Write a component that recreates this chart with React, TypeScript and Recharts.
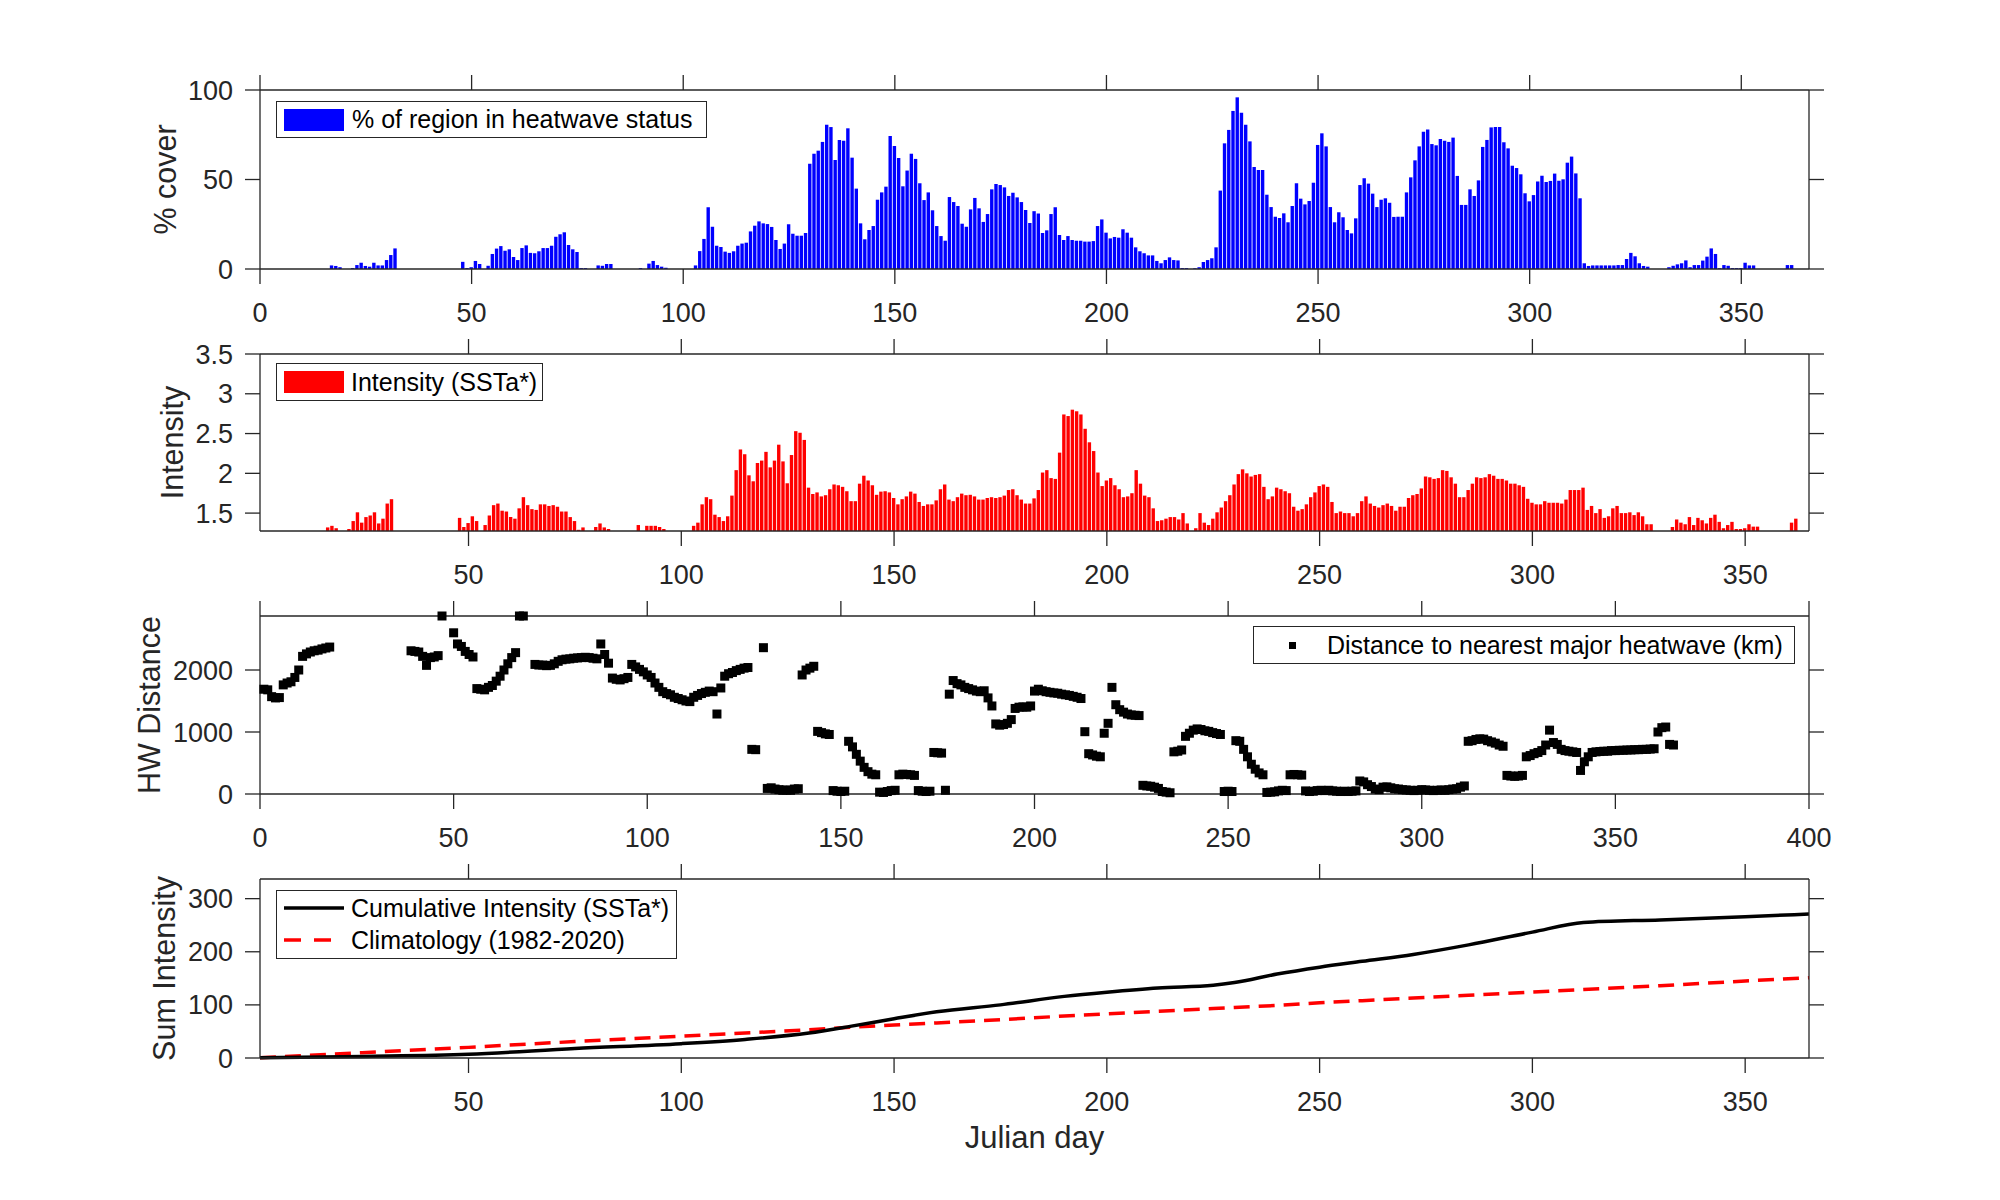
import { ComposedChart, Bar, Line, Scatter, XAxis, YAxis, Label } from "recharts";

const FONT = '"Liberation Sans", Arial, Helvetica, sans-serif';
const INK = "#262626";

// days with an active heatwave (inclusive ranges), values below follow this order
const HW_RANGES: [number, number][] = [
  [17, 19], [22, 32], [48, 52], [54, 77], [80, 83], [90, 90],
  [92, 96], [103, 219], [221, 328], [333, 353], [361, 362],
];

// % of region in heatwave status
const COVER = [
  2, 1.7, 1,
  0.5, 2.2, 3.5, 1.7, 1.3, 3.5, 2, 2, 5, 7.8, 11.5,
  4, 0.5, 1, 4.5, 2.8,
  1.8, 8.4, 11.4, 12.8, 10.2, 11, 6.7, 5, 11.7, 13.2, 9, 8.8, 9.9, 11.7, 11.7, 13, 18, 19.4, 20.5, 13.4, 11, 9.5, 0.5, 0.5,
  2, 1.8, 2.8, 2.8,
  0.5,
  3, 4.5, 2.2, 1.3, 0.7,
  2, 10, 16.8, 34.5, 23.6, 13, 12.3, 9.7, 9, 9.9,
  13, 14.2, 14.7, 21, 24.2, 26.6, 25.5, 25.1, 23.5, 16.2,
  11.2, 14.2, 25, 19.7, 18.6, 18.6, 20.1, 58.8, 64.4, 66.1,
  71, 80.6, 79.3, 60.9, 72, 71.7, 78.6, 62.2, 44.9, 25.5,
  16.6, 21.8, 24, 38.7, 42.8, 46, 74.3, 68.7, 62, 46.2,
  55, 64.4, 61.5, 47.9, 38.5, 42.8, 32.8, 24, 18.4, 15.8,
  40.2, 37.4, 35.2, 25.3, 23.6, 33.3, 39.7, 33.9, 26.3, 30.7,
  44.5, 47.5, 46.9, 45.6, 40.8, 42.6, 40, 37.4, 33, 25.7,
  32.3, 31, 20.1, 21.6, 30.7, 34.5, 19, 16.2, 18.4, 16.2,
  15.8, 15.8, 15.3, 15.3, 15.6, 24, 27.7, 20.3, 17.1, 17.9,
  17.5, 22.2, 20.3, 17.5, 12.1, 9.9, 8.8, 7.6, 7.6, 4.5,
  3.2, 5, 6.5, 5, 4.8, 0.5, 0.5,
  0.4, 1, 3.9, 5, 6, 12.1, 43.8, 70.2, 77.7, 88.3,
  95.9, 87.3, 80.6, 71.3, 57, 55.3, 55.3, 41.5, 34.6, 29.2,
  28.5, 31.1, 26.1, 35.2, 47.9, 39.3, 36.1, 38, 48.2, 69.3,
  75.8, 68.5, 34.6, 26.1, 31.7, 28.9, 21.8, 19.9, 28.3, 46.9,
  50.7, 47.7, 42.1, 34.6, 38.7, 39.5, 37, 29.1, 29.2, 29.2,
  42.8, 51.2, 60.7, 68.5, 76.7, 78, 69.8, 69.1, 72.6, 71.7,
  71, 73.4, 52, 35.8, 35.8, 44.5, 40.8, 49.5, 68.2, 72.1,
  79.1, 79.3, 79.3, 70.8, 67.4, 57.7, 56.4, 52.9, 42.3, 37.8,
  41.3, 48.9, 52.1, 48.6, 49.2, 53.3, 49.3, 50.1, 59.4, 62.8,
  53.4, 39.5, 3.2, 1.7, 2, 2, 2, 2, 2, 2,
  2.2, 2.2, 5.6, 9, 7.1, 3.2, 1.7, 1.3,
  1, 1.8, 2.6, 3.2, 4.8, 1, 2.2, 2.2, 4.7, 6.9, 11.5, 8.4, 0.4, 2.2, 1.8, 0.5, 0.5, 0.5, 3.5, 2, 2,
  2.2, 2.2,
];

// intensity (SSTa*)
const INTENSITY = [
  1.32, 1.34, 1.31,
  1.3, 1.4, 1.51, 1.38, 1.45, 1.47, 1.51, 1.37, 1.43, 1.62, 1.675,
  1.44, 1.325, 1.375, 1.46, 1.4,
  1.35, 1.47, 1.6, 1.62, 1.53, 1.52, 1.45, 1.43, 1.56, 1.7, 1.6, 1.55, 1.54, 1.61, 1.61, 1.59, 1.6, 1.58, 1.52, 1.52, 1.45, 1.4, 1.29, 1.32,
  1.325, 1.37, 1.32, 1.3,
  1.35,
  1.34, 1.34, 1.34, 1.325, 1.3,
  1.34, 1.38, 1.61, 1.7, 1.675, 1.48, 1.45, 1.4, 1.46, 1.72,
  2.04, 2.3, 2.24, 1.975, 1.9, 2.13, 2.16, 2.27, 2.075, 2.16,
  2.36, 2.15, 1.875, 2.23, 2.53, 2.51, 2.42, 1.82, 1.74, 1.76,
  1.71, 1.725, 1.8, 1.86, 1.85, 1.83, 1.775, 1.65, 1.65, 1.87,
  1.97, 1.91, 1.85, 1.73, 1.77, 1.775, 1.76, 1.69, 1.61, 1.675,
  1.71, 1.77, 1.745, 1.64, 1.59, 1.61, 1.61, 1.66, 1.8, 1.86,
  1.67, 1.65, 1.7, 1.745, 1.725, 1.73, 1.71, 1.67, 1.67, 1.69,
  1.7, 1.69, 1.7, 1.72, 1.79, 1.8, 1.725, 1.67, 1.62, 1.62,
  1.685, 1.79, 2.01, 2.04, 1.94, 1.93, 2.26, 2.74, 2.72, 2.8,
  2.78, 2.74, 2.56, 2.39, 2.28, 2.01, 1.84, 1.91, 1.94, 1.85,
  1.8, 1.7, 1.71, 1.75, 2.04, 1.87, 1.72, 1.7, 1.56, 1.4,
  1.41, 1.43, 1.45, 1.45, 1.42, 1.5, 1.37,
  1.31, 1.5, 1.38, 1.35, 1.43, 1.51, 1.57, 1.65, 1.725, 1.86,
  1.99, 2.05, 2.0, 1.96, 1.98, 1.99, 1.83, 1.675, 1.71, 1.82,
  1.8, 1.775, 1.75, 1.58, 1.53, 1.55, 1.61, 1.7, 1.76, 1.84,
  1.86, 1.83, 1.64, 1.5, 1.52, 1.5, 1.5, 1.46, 1.5, 1.65,
  1.71, 1.62, 1.59, 1.57, 1.6, 1.62, 1.59, 1.53, 1.58, 1.58,
  1.69, 1.725, 1.74, 1.81, 1.96, 1.95, 1.93, 1.94, 2.04, 2.03,
  1.95, 1.87, 1.7, 1.7, 1.79, 1.87, 1.95, 1.94, 1.95, 1.99,
  1.97, 1.93, 1.93, 1.91, 1.87, 1.87, 1.85, 1.83, 1.68, 1.63,
  1.61, 1.61, 1.65, 1.63, 1.63, 1.63, 1.62, 1.67, 1.79, 1.79,
  1.79, 1.82, 1.54, 1.59, 1.5, 1.55, 1.44, 1.46, 1.56, 1.59,
  1.5, 1.5, 1.51, 1.475, 1.51, 1.46, 1.36, 1.36,
  1.325, 1.42, 1.38, 1.36, 1.45, 1.35, 1.44, 1.41, 1.37, 1.44, 1.48, 1.39, 1.31, 1.35, 1.39, 1.3, 1.3, 1.31, 1.36, 1.33, 1.33,
  1.38, 1.43,
];

// distance to nearest major heatwave (km), day 1..365, null = no point
const DIST: (number | null)[] = [
  1690, 1680, 1570, 1550, 1555, 1760, 1790, 1810, 1880, 2000,
  2220, 2260, 2290, 2310, 2320, 2340, 2355, 2370, null, null,
  null, null, null, null, null, null, null, null, null, null,
  null, null, null, null, null, null, null, null, 2310, 2300,
  2290, 2220, 2075, 2200, 2210, 2232, 2871, null, null, 2600,
  2420, 2380, 2300, 2250, 2210, 1700, 1690, 1680, 1720, 1750,
  1820, 1900, 2000, 2100, 2200, 2280, 2871, 2871, null, null,
  2090, 2080, 2080, 2070, 2075, 2100, 2140, 2165, 2175, 2180,
  2190, 2195, 2200, 2205, 2200, 2190, 2180, 2420, 2250, 2110,
  1870, 1850, 1840, 1860, 1880, 2090, 2050, 2010, 1970, 1920,
  1880, 1790, 1720, 1650, 1620, 1600, 1560, 1540, 1520, 1500,
  1490, 1560, 1590, 1620, 1640, 1660, 1650, 1290, 1710, 1900,
  1940, 1960, 1990, 2010, 2030, 2040, 720, 715, null, 2360,
  90, 100, 80, 70, 60, 65, 60, 80, 85, 1920,
  2000, 2030, 2060, 1010, 990, 970, 960, 55, 45, 40,
  45, 850, 760, 640, 530, 430, 360, 320, 310, 30,
  25, 40, 55, 60, 310, 320, 315, 310, 300, 55,
  45, 40, 45, 670, 665, 660, 60, 1610, 1830, 1780,
  1760, 1720, 1700, 1680, 1660, 1650, 1665, 1550, 1420, 1130,
  1110, 1120, 1140, 1200, 1380, 1400, 1405, 1400, 1420, 1660,
  1690, 1665, 1650, 1640, 1630, 1625, 1610, 1600, 1590, 1575,
  1560, 1540, 1005, 650, 630, 610, 600, 980, 1140, 1720,
  1440, 1360, 1320, 1290, 1275, 1270, 1265, 140, 130, 125,
  110, 90, 40, 30, 20, 680, 690, 710, 930, 980,
  1030, 1050, 1040, 1020, 1010, 990, 975, 960, 40, 45,
  40, 860, 850, 720, 600, 480, 400, 340, 310, 25,
  30, 35, 50, 60, 55, 310, 315, 310, 305, 50,
  40, 45, 55, 60, 55, 60, 50, 45, 40, 45,
  40, 45, 50, 210, 195, 150, 120, 80, 70, 110,
  115, 100, 85, 80, 70, 65, 60, 55, 60, 70,
  65, 60, 55, 60, 65, 60, 70, 80, 85, 110,
  130, 850, 860, 880, 890, 885, 860, 840, 820, 790,
  770, 300, 290, 285, 290, 300, 600, 620, 650, 670,
  700, 790, 1030, 830, 800, 720, 700, 690, 680, 670,
  380, 520, 600, 670, 680, 685, 690, 690, 700, 700,
  705, 705, 710, 710, 715, 715, 720, 720, 725, 730,
  1000, 1070, 1080, 800, 790,
];

// cumulative intensity vs climatology
const SUM_DAYS = [1, 25, 50, 75, 100, 115, 130, 140, 150, 160, 175, 190, 200, 212, 225, 230, 240, 250, 260, 272, 285, 300, 312, 330, 350, 365];
const CUM_INTENSITY = [0.5, 3, 7, 18, 27, 35, 47, 60, 74, 87, 100, 116, 124, 132, 137, 142, 158, 171, 182, 195, 213, 237, 255, 260, 266, 271];
const CLIMATOLOGY = [0.4, 10, 20, 31, 41, 47, 53, 58, 62, 66, 72, 79, 83, 88, 93, 95, 99, 104, 108, 113, 118, 124, 129, 136, 145, 151];

const TICKS_0_350 = [0, 50, 100, 150, 200, 250, 300, 350];
const TICKS_50_350 = [50, 100, 150, 200, 250, 300, 350];
const TICKS_0_400 = [0, 50, 100, 150, 200, 250, 300, 350, 400];
const COVER_TICKS = [0, 50, 100];
const INTENSITY_TICKS = [1.5, 2, 2.5, 3, 3.5];
const DIST_TICKS = [0, 1000, 2000];
const SUM_TICKS = [0, 100, 200, 300];

const hwDays = HW_RANGES.flatMap(([a, b]) => Array.from({ length: b - a + 1 }, (_, i) => a + i));
const coverRows = hwDays.map((day, i) => ({ day, cover: COVER[i] }));
const intensityRows = hwDays.map((day, i) => ({ day, intensity: INTENSITY[i] }));
const distRows = DIST.map((dist, i) => ({ day: i + 1, dist })).filter((r) => r.dist !== null);
const sumRows = SUM_DAYS.map((day, i) => ({ day, cum: CUM_INTENSITY[i], clim: CLIMATOLOGY[i] }));

const line = { stroke: INK, strokeWidth: 1.3 };
const tickText = { fontSize: 27, fill: INK };
const blank = () => "";

function Panel({ boxTop, boxHeight, labelWidth, yLabel, data, xDomain, xTicks, yDomain, yTicks, bottomHeight = 60, xLabel, children }: any) {
  const top = boxTop - 40;
  const height = 40 + boxHeight + bottomHeight;
  return (
    <div style={{ position: "absolute", left: 0, top }}>
      <ComposedChart
        width={2000}
        height={height}
        data={data}
        margin={{ top: 25, right: 176, bottom: 0, left: 260 - labelWidth }}
      >
        <XAxis
          xAxisId="b"
          dataKey="day"
          type="number"
          domain={xDomain}
          ticks={xTicks}
          interval={0}
          height={bottomHeight}
          tickSize={15}
          tickMargin={19}
          tick={tickText}
          axisLine={line}
          tickLine={line}
        >
          {xLabel && <Label value={xLabel} position="insideBottom" offset={30} fontSize={31} fill={INK} />}
        </XAxis>
        <XAxis
          xAxisId="t"
          dataKey="day"
          orientation="top"
          type="number"
          domain={xDomain}
          ticks={xTicks}
          interval={0}
          allowDataOverflow
          height={15}
          tickSize={15}
          tickFormatter={blank}
          axisLine={line}
          tickLine={line}
        />
        <YAxis
          yAxisId="l"
          type="number"
          domain={yDomain}
          ticks={yTicks}
          interval={0}
          width={labelWidth}
          tickSize={15}
          tickMargin={12}
          tick={tickText}
          axisLine={line}
          tickLine={line}
        >
          <Label value={yLabel} angle={-90} position="center" fontSize={30.5} fill={INK} />
        </YAxis>
        <YAxis
          yAxisId="r"
          orientation="right"
          type="number"
          domain={yDomain}
          ticks={yTicks}
          interval={0}
          allowDataOverflow
          width={15}
          tickSize={15}
          tickFormatter={blank}
          axisLine={line}
          tickLine={line}
        />
        {children}
      </ComposedChart>
    </div>
  );
}

const boxStyle = (left: number, top: number, width: number, height: number): any => ({
  position: "absolute",
  left,
  top,
  width,
  height,
  boxSizing: "border-box",
  border: `1.3px solid ${INK}`,
  background: "#fff",
  fontSize: 25,
  color: "#000",
  whiteSpace: "nowrap",
});

const rowText = (left: number, top: number, height: number): any => ({
  position: "absolute",
  left,
  top,
  height,
  lineHeight: `${height}px`,
});

function square(p: any) {
  return <rect x={p.cx - 4.5} y={p.cy - 4.5} width={9} height={9} fill="#000" />;
}

export default function App() {
  return (
    <div style={{ position: "absolute", left: 0, top: 0, width: 2000, height: 1200, background: "#fff", fontFamily: FONT }}>
      <Panel boxTop={90} boxHeight={179} labelWidth={190} yLabel="% cover" data={coverRows}
        xDomain={[0, 366]} xTicks={TICKS_0_350} yDomain={[0, 100]} yTicks={COVER_TICKS}>
        <Bar xAxisId="b" yAxisId="l" dataKey="cover" fill="#0000ff" barSize={3.4} isAnimationActive={false} />
      </Panel>

      <Panel boxTop={354} boxHeight={177} labelWidth={176} yLabel="Intensity" data={intensityRows}
        xDomain={[1, 365]} xTicks={TICKS_50_350} yDomain={[1.275, 3.5]} yTicks={INTENSITY_TICKS}>
        <Bar xAxisId="b" yAxisId="l" dataKey="intensity" fill="#ff0000" barSize={3.4} isAnimationActive={false} />
      </Panel>

      <Panel boxTop={616} boxHeight={178} labelWidth={222} yLabel="HW Distance" data={distRows}
        xDomain={[0, 400]} xTicks={TICKS_0_400} yDomain={[0, 2871]} yTicks={DIST_TICKS}>
        <Scatter xAxisId="b" yAxisId="l" data={distRows} dataKey="dist" shape={square} isAnimationActive={false} />
      </Panel>

      <Panel boxTop={879} boxHeight={179} labelWidth={192} yLabel="Sum Intensity" data={sumRows}
        xDomain={[1, 365]} xTicks={TICKS_50_350} yDomain={[0, 337]} yTicks={SUM_TICKS}
        bottomHeight={120} xLabel="Julian day">
        <Line xAxisId="b" yAxisId="l" type="linear" dataKey="clim" stroke="#ff0000" strokeWidth={3.5}
          strokeDasharray="16 9" dot={false} isAnimationActive={false} />
        <Line xAxisId="b" yAxisId="l" type="monotone" dataKey="cum" stroke="#000" strokeWidth={3.5}
          dot={false} isAnimationActive={false} />
      </Panel>

      {/* legends */}
      <div style={boxStyle(276, 101, 431, 37)}>
        <div style={{ position: "absolute", left: 7, top: 6.5, width: 60, height: 22, background: "#0000ff" }} />
        <span style={rowText(75, 0, 35)}>% of region in heatwave status</span>
      </div>

      <div style={boxStyle(276, 363, 267, 38)}>
        <div style={{ position: "absolute", left: 7, top: 7, width: 60, height: 22, background: "#ff0000" }} />
        <span style={rowText(74, 0, 36)}>Intensity (SSTa*)</span>
      </div>

      <div style={boxStyle(1253, 626, 542, 38)}>
        <div style={{ position: "absolute", left: 34.5, top: 15, width: 7, height: 7, background: "#000" }} />
        <span style={rowText(73, 0, 36)}>Distance to nearest major heatwave (km)</span>
      </div>

      <div style={boxStyle(276, 890, 401, 69)}>
        <svg style={{ position: "absolute", left: 0, top: 0 }} width={120} height={67}>
          <line x1={7} x2={67} y1={17} y2={17} stroke="#000" strokeWidth={3.5} />
          <line x1={7} x2={55} y1={49} y2={49} stroke="#ff0000" strokeWidth={3.5} strokeDasharray="17 13" />
        </svg>
        <span style={rowText(74, 1, 32)}>Cumulative Intensity (SSTa*)</span>
        <span style={rowText(74, 33, 32)}>Climatology (1982-2020)</span>
      </div>
    </div>
  );
}
